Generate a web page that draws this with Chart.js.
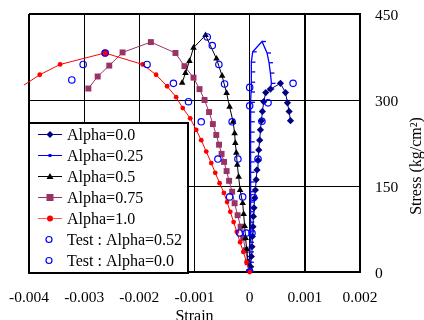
<!DOCTYPE html>
<html><head><meta charset="utf-8">
<script src="https://cdn.jsdelivr.net/npm/chart.js@4/dist/chart.umd.min.js"></script>
<style>html,body{margin:0;padding:0;background:#fff;}#wrap{width:424px;height:320px;}</style>
</head><body><div id="wrap"><canvas id="c" width="424" height="320"></canvas></div>
<script>
// ---- data (strain, stress in kg/cm2) ----
const seriesNames = ['Alpha=0.0','Alpha=0.25','Alpha=0.5','Alpha=0.75','Alpha=1.0','Test : Alpha=0.52','Test : Alpha=0.0'];

const alpha0Strain = [0,0.000018,0.000031,0.000042,0.000049,0.00006,0.000067,0.000078,0.000091,0.000104,0.000118,0.000133,0.000151,0.000164,0.000182,0.000195,0.000213,0.000231,0.000255,0.000291,0.000376,0.000558,0.000649,0.000685,0.000715,0.00074];
const alpha0Stress = [0,9,27,44,62,79,97,112,129,143,161,178,195,213,230,248,264,280,297,313,319,329,313,295,280,264];

const alpha025Strain = [0,0.000004,0.000005,0.000007,0.000009,0.000011,0.000013,0.000015,0.000016,0.000018,0.000018,0.000018,0.000018,0.000018,0.000018,0.000022,0.000022,0.000024,0.000025,0.000027,0.000029,0.000033,0.000055,0.000224,0.000315,0.000351,0.000376,0.000395,0.000373];
const alpha025Stress = [0,17,35,52,70,87,105,122,140,157,174,192,209,227,244,262,279,296,314,331,349,366,384,402,382,365,347,329,319];

const alpha05Strain = [0,-0.000027,-0.000055,-0.000073,-0.000091,-0.000109,-0.000127,-0.000173,-0.0002,-0.000224,-0.000242,-0.00026,-0.000273,-0.0003,-0.000364,-0.000418,-0.0005,-0.000601,-0.0008,-0.001018,-0.001091,-0.001164,-0.001224];
const alpha05Stress = [0,17,40,59,80,101,120,143,166,187,208,225,242,262,288,312,342,372,413,391,368,347,330];

const alpha075Strain = [0,-0.000036,-0.000073,-0.000118,-0.000164,-0.000218,-0.000273,-0.000318,-0.000373,-0.000418,-0.000464,-0.000509,-0.000555,-0.000605,-0.000667,-0.000736,-0.000818,-0.000909,-0.001018,-0.001182,-0.001345,-0.001791,-0.002304,-0.002545,-0.002755,-0.002924];
const alpha075Stress = [0,17,38,59,79,99,120,140,159,176,192,206,222,239,258,279,300,319,339,359,382,401,383,360,341,320];

const alpha1Strain = [0,-0.000055,-0.000115,-0.000173,-0.000233,-0.000291,-0.000351,-0.000409,-0.000467,-0.000545,-0.000624,-0.000696,-0.000787,-0.000878,-0.000969,-0.001078,-0.001213,-0.001333,-0.001496,-0.001696,-0.00194,-0.002624,-0.003436,-0.003805,-0.004091];
const alpha1Stress = [0,17,35,52,70,87,105,122,138,155,173,190,210,230,248,268,286,305,324,344,362,382,362,344,326];

const test052Strain = [0,-0.00006,-0.000127,-0.000213,-0.000318,-0.000455,-0.000558,-0.000678,-0.000769,-0.000182,-0.000364,-0.000576,-0.000878,-0.001109,-0.001382,-0.00186,-0.002618,-0.003018,-0.003224];
const test052Stress = [0,68,131,197,262,328,362,395,410,68,131,197,262,297,329,362,382,362,335];

const test00Strain = [0,0.000042,0.000073,0.000151,0.000222,0.000333,0.000787,0,0];
const test00Stress = [0,68,130,197,263,295,329,322,290];

const xTickLabels = ['-0.004','-0.003','-0.002','-0.001','0','0.001','0.002'];
const yTickLabels = ['0','150','300','450'];
const xTitle = 'Strain';
const yTitle = 'Stress (kg/cm\u00B2)';

// ---- helpers ----
const SERIF = "'Liberation Serif','Times New Roman',serif";
const pts = (xs, ys) => xs.map((x, i) => ({x: x, y: ys[i]}));
const NAVY = '#000080', BLUE = '#0000ff', PURPLE = '#993366', RED = '#ff0000';
const X_MIN = -0.004, X_MAX = 0.002;

const red = pts(alpha1Strain, alpha1Stress);
const redPeak = alpha1Stress.indexOf(Math.max(...alpha1Stress));

const datasets = [
  {label: seriesNames[0], data: pts(alpha0Strain, alpha0Stress), showLine: true, borderColor: NAVY, backgroundColor: NAVY,
   borderWidth: 1, pointStyle: 'rectRot', pointRadius: 3.6, pointBorderWidth: 0, order: 3},
  {label: seriesNames[1], data: pts(alpha025Strain, alpha025Stress), showLine: true, borderColor: BLUE, backgroundColor: BLUE,
   borderWidth: 1.3, pointStyle: 'dash', pointRadius: 4, pointBorderWidth: 1.3, order: 4},
  {label: seriesNames[2], data: pts(alpha05Strain, alpha05Stress), showLine: true, borderColor: '#000', backgroundColor: '#000',
   borderWidth: 1, pointStyle: 'triangle', pointRadius: 3.8, pointBorderWidth: 0, order: 5},
  {label: seriesNames[3], data: pts(alpha075Strain, alpha075Stress), showLine: true, borderColor: PURPLE, backgroundColor: PURPLE,
   borderWidth: 1, pointStyle: 'rect', pointRadius: 4.2, pointBorderWidth: 0, order: 6},
  {label: seriesNames[4], data: red, showLine: true, borderColor: RED, backgroundColor: RED,
   borderWidth: 1, pointStyle: 'circle', pointBorderWidth: 0,
   pointRadius: c => (c.raw && c.raw.x < X_MIN) ? 0 : (c.dataIndex === redPeak ? 3.6 : 2.4),
   clip: {left: 6, top: 5, right: 5, bottom: 5}, order: 2},
  {label: seriesNames[5], data: pts(test052Strain, test052Stress), showLine: false, borderColor: BLUE, backgroundColor: 'rgba(0,0,0,0)',
   pointStyle: 'circle', pointRadius: 3.2, pointBorderWidth: 1.2, order: 0},
  {label: seriesNames[6], data: pts(test00Strain, test00Stress), showLine: false, borderColor: BLUE, backgroundColor: 'rgba(0,0,0,0)',
   pointStyle: 'circle', pointRadius: 3.2, pointBorderWidth: 1.2, order: 1}
];

const legendPlugin = {
  id: 'boxLegend',
  afterDraw(chart) {
    const ctx = chart.ctx;
    ctx.save();
    ctx.fillStyle = '#fff';
    ctx.fillRect(28, 122, 161, 152);
    ctx.lineWidth = 2; ctx.strokeStyle = '#000';
    ctx.strokeRect(29, 123, 159, 150);
    const cols = [NAVY, BLUE, '#000', PURPLE, RED, BLUE, BLUE];
    ctx.font = '16px ' + SERIF;
    ctx.textBaseline = 'alphabetic'; ctx.textAlign = 'left';
    seriesNames.forEach((name, i) => {
      const base = 140 + 21 * i, cy = base - 5.5, cx = 50;
      const col = cols[i];
      if (i < 5) {
        ctx.strokeStyle = (i === 4) ? '#ff5a5a' : col; ctx.lineWidth = 1;
        ctx.beginPath(); ctx.moveTo(38, cy); ctx.lineTo(62, cy); ctx.stroke();
      }
      ctx.fillStyle = col;
      ctx.beginPath();
      if (i === 0) { ctx.moveTo(cx, cy - 3.5); ctx.lineTo(cx + 3.5, cy); ctx.lineTo(cx, cy + 3.5); ctx.lineTo(cx - 3.5, cy); ctx.closePath(); ctx.fill(); }
      else if (i === 1) { ctx.fillRect(cx - 1.5, cy - 1.5, 3, 3); }
      else if (i === 2) { ctx.moveTo(cx, cy - 3.5); ctx.lineTo(cx + 3.5, cy + 2.5); ctx.lineTo(cx - 3.5, cy + 2.5); ctx.closePath(); ctx.fill(); }
      else if (i === 3) { ctx.fillRect(cx - 3.5, cy - 3.5, 7, 7); }
      else if (i === 4) { ctx.arc(cx, cy, 3, 0, Math.PI * 2); ctx.fill(); }
      else { ctx.strokeStyle = col; ctx.lineWidth = 1.2; ctx.arc(cx - 1, cy, 3, 0, Math.PI * 2); ctx.stroke(); }
      ctx.fillStyle = '#000';
      ctx.fillText(name, 67, base);
    });
    // axis titles
    ctx.font = '16px ' + SERIF;
    ctx.textAlign = 'center';
    ctx.fillText(xTitle, 194.5, 321);
    ctx.translate(421, 166);
    ctx.rotate(-Math.PI / 2);
    ctx.fillText(yTitle, 0, 0);
    ctx.restore();
  }
};

const edgeOr = (c, extra) => {
  const n = c.scale.ticks.length;
  return (c.index === 0 || c.index === n - 1 || extra(c)) ? 2 : 1;
};

new Chart(document.getElementById('c'), {
  type: 'scatter',
  data: {datasets: datasets},
  options: {
    responsive: false, animation: false, devicePixelRatio: 1,
    layout: {padding: {left: 29, top: 14, right: 0, bottom: 0}},
    plugins: {legend: {display: false}, tooltip: {enabled: false}},
    scales: {
      x: {
        type: 'linear', position: 'bottom', min: X_MIN, max: X_MAX,
        afterFit: s => { s.height = 48; s.paddingLeft = 0; s.paddingRight = 0; },
        ticks: {stepSize: 0.001, padding: 17, color: '#000', font: {family: SERIF, size: 15.5},
                callback: (v, i) => xTickLabels[i], maxRotation: 0, autoSkip: false},
        grid: {color: '#000', drawTicks: false,
               lineWidth: c => edgeOr(c, cc => cc.tick && Math.abs(cc.tick.value - 0.001) < 1e-9)},
        border: {display: true, color: '#000', width: 2}
      },
      y: {
        type: 'linear', position: 'right', min: 0, max: 450,
        afterFit: s => { s.width = 64; s.paddingTop = 0; s.paddingBottom = 0; },
        ticks: {stepSize: 150, padding: 15, color: '#000', font: {family: SERIF, size: 15.5},
                callback: (v, i) => yTickLabels[i], labelOffset: 2},
        grid: {color: '#000', drawTicks: false, lineWidth: c => edgeOr(c, () => false)},
        border: {display: true, color: '#000', width: 2}
      }
    }
  },
  plugins: [legendPlugin]
});
</script>
</body></html>
